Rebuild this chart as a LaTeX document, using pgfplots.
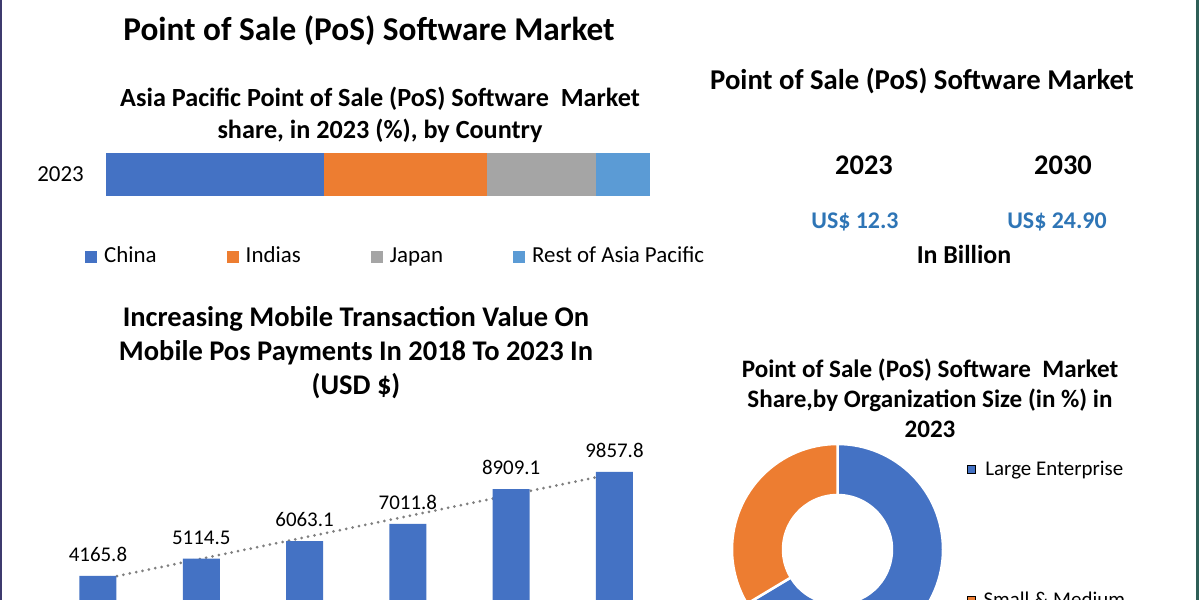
\documentclass[border=0pt]{standalone}
\usepackage{fontspec}
\setmainfont{Carlito}
\usepackage{pgfplots}
\pgfplotsset{compat=1.18}

\definecolor{cBlue}{HTML}{4472C4}
\definecolor{cOrange}{HTML}{ED7D31}
\definecolor{cGray}{HTML}{A5A5A5}
\definecolor{cLight}{HTML}{5B9BD5}
\definecolor{cUSD}{HTML}{2E75B6}
\definecolor{cTrend}{HTML}{7F7F7F}
\definecolor{cLeftEdge}{HTML}{3E3A6E}
\definecolor{cRightEdge}{HTML}{2F5F57}

\newcommand\fs[1]{\fontsize{#1}{#1}\selectfont}

% donut shares (%), 2023
\def\shareLarge{66.4}
\def\shareSmall{33.6}

\begin{document}
\begin{tikzpicture}
\useasboundingbox (0bp,0bp) rectangle (1200bp,600bp);
\begin{scope}[x=1bp,y=1bp]
\fill[white] (0,0) rectangle (1200,600);
\fill[cLeftEdge] (0,0) rectangle (2.5,600);
\fill[cRightEdge] (1195.5,0) rectangle (1198.5,600);

% ---- titles, top left
\node[anchor=base, font=\bfseries\fs{33.4}] at (369,559) {Point of Sale (PoS) Software Market};
\node[anchor=base, font=\bfseries\fs{26.3}] at (380,493) {Asia Pacific Point of Sale (PoS) Software\ \ Market};
\node[anchor=base, font=\bfseries\fs{26.3}] at (380,461) {share, in 2023 (\%), by Country};

% ---- top right figures
\node[anchor=base, font=\bfseries\fs{28.8}] at (922,510) {Point of Sale (PoS) Software Market};
\node[anchor=base, font=\bfseries\fs{28.5}] at (864,425) {2023};
\node[anchor=base, font=\bfseries\fs{28.5}] at (1063,425) {2030};
\node[anchor=base, font=\bfseries\fs{24}, text=cUSD] at (855,372) {US\$ 12.3};
\node[anchor=base, font=\bfseries\fs{24}, text=cUSD] at (1057,372) {US\$ 24.90};
\node[anchor=base, font=\bfseries\fs{26}] at (964,337) {In Billion};

% ---- bar chart title
\node[anchor=base, font=\bfseries\fs{28.6}] at (356,274) {Increasing Mobile Transaction Value On};
\node[anchor=base, font=\bfseries\fs{28.6}] at (356,240) {Mobile Pos Payments In 2018 To 2023 In};
\node[anchor=base, font=\bfseries\fs{28.6}] at (356,206) {(USD \$)};

% ---- donut title
\node[anchor=base, font=\bfseries\fs{25.2}] at (930,223) {Point of Sale (PoS) Software\ \ Market};
\node[anchor=base, font=\bfseries\fs{25.2}] at (930,193) {Share,by Organization Size (in \%) in};
\node[anchor=base, font=\bfseries\fs{25.2}] at (930,163) {2023};
\end{scope}

% ---- stacked share bar
\begin{axis}[
  at={(106bp,404bp)}, anchor=south west, scale only axis,
  width=544bp, height=43bp,
  xmin=0, xmax=100, ymin=0, ymax=1,
  xbar stacked, bar width=43bp,
  axis line style={draw=none}, tick style={draw=none},
  xtick=\empty, ytick={0.5}, yticklabels={2023},
  yticklabel style={font=\fs{23}, inner sep=0pt, xshift=-22bp},
  legend columns=-1,
  legend image code/.code={\fill[#1] (0bp,-6bp) rectangle (12bp,6bp);},
  legend style={draw=none, fill=none, inner sep=0pt,
    at={(axis description cs:-0.0386,-1.41)}, anchor=west,
    nodes={inner sep=0pt, font=\fs{23}},
    /tikz/every odd column/.append style={column sep=7bp},
    /tikz/every even column/.append style={column sep=70bp,
      nodes={text height=16bp, text depth=5bp}}},
]
\addplot[fill=cBlue, draw=none] coordinates {(40,0.5)};
\addplot[fill=cOrange, draw=none] coordinates {(30,0.5)};
\addplot[fill=cGray, draw=none] coordinates {(20,0.5)};
\addplot[fill=cLight, draw=none] coordinates {(10,0.5)};
\legend{China, Indias, Japan, Rest of Asia Pacific}
\end{axis}

% ---- mobile transaction value bars
\begin{axis}[
  at={(46.3bp,-52bp)}, anchor=south west, scale only axis,
  width=619.8bp, height=182.7bp,
  xmin=0.5, xmax=6.5, ymin=0, ymax=10000,
  hide axis, clip=false,
]
% linear trend line (behind the bars)
\addplot[cTrend, line width=3bp, dash pattern=on 0bp off 6.5bp, line cap=round]
  coordinates {(1,3939.9) (6,9767.4)};
\addplot[ybar, bar width=37bp, fill=cBlue, draw=none,
  point meta=explicit symbolic, nodes near coords,
  nodes near coords style={font=\fs{21}, inner sep=0pt, yshift=14bp, text=black}]
  coordinates {
    (1,4165.8) [4165.8]
    (2,5114.5) [5114.5]
    (3,6063.1) [6063.1]
    (4,7011.8) [7011.8]
    (5,8909.1) [8909.1]
    (6,9857.8) [9857.8]
  };
\end{axis}

% ---- organization size donut
\pgfmathsetmacro\aMid{90-3.6*\shareLarge}
\begin{axis}[
  at={(732bp,-55bp)}, anchor=south west, scale only axis,
  width=211bp, height=211bp,
  xmin=-1, xmax=1, ymin=-1, ymax=1,
  hide axis, clip=false,
  legend image code/.code={\fill[#1] (0bp,-4bp) rectangle (8bp,4bp);},
  legend style={draw=none, fill=none, inner sep=0pt,
    at={(axis description cs:1.1137,0.919)}, anchor=north west,
    nodes={inner sep=0pt, font=\fs{21}},
    /tikz/every odd column/.append style={column sep=8bp},
    row sep=115bp},
]
\addlegendimage{fill=cBlue}
\addlegendentry{Large Enterprise}
\addlegendimage{fill=cOrange}
\addlegendentry{Small \& Medium}
\fill[cBlue, draw=white, line width=2.5bp]
  ([shift={(90:105.5bp)}]axis cs:0,0) arc[start angle=90, end angle=\aMid, radius=105.5bp]
  -- ([shift={(\aMid:54.5bp)}]axis cs:0,0) arc[start angle=\aMid, end angle=90, radius=54.5bp] -- cycle;
\fill[cOrange, draw=white, line width=2.5bp]
  ([shift={(90:105.5bp)}]axis cs:0,0) arc[start angle=90, end angle={\aMid+360}, radius=105.5bp]
  -- ([shift={(\aMid:54.5bp)}]axis cs:0,0) arc[start angle={\aMid+360}, end angle=90, radius=54.5bp] -- cycle;
\end{axis}
\end{tikzpicture}
\end{document}
